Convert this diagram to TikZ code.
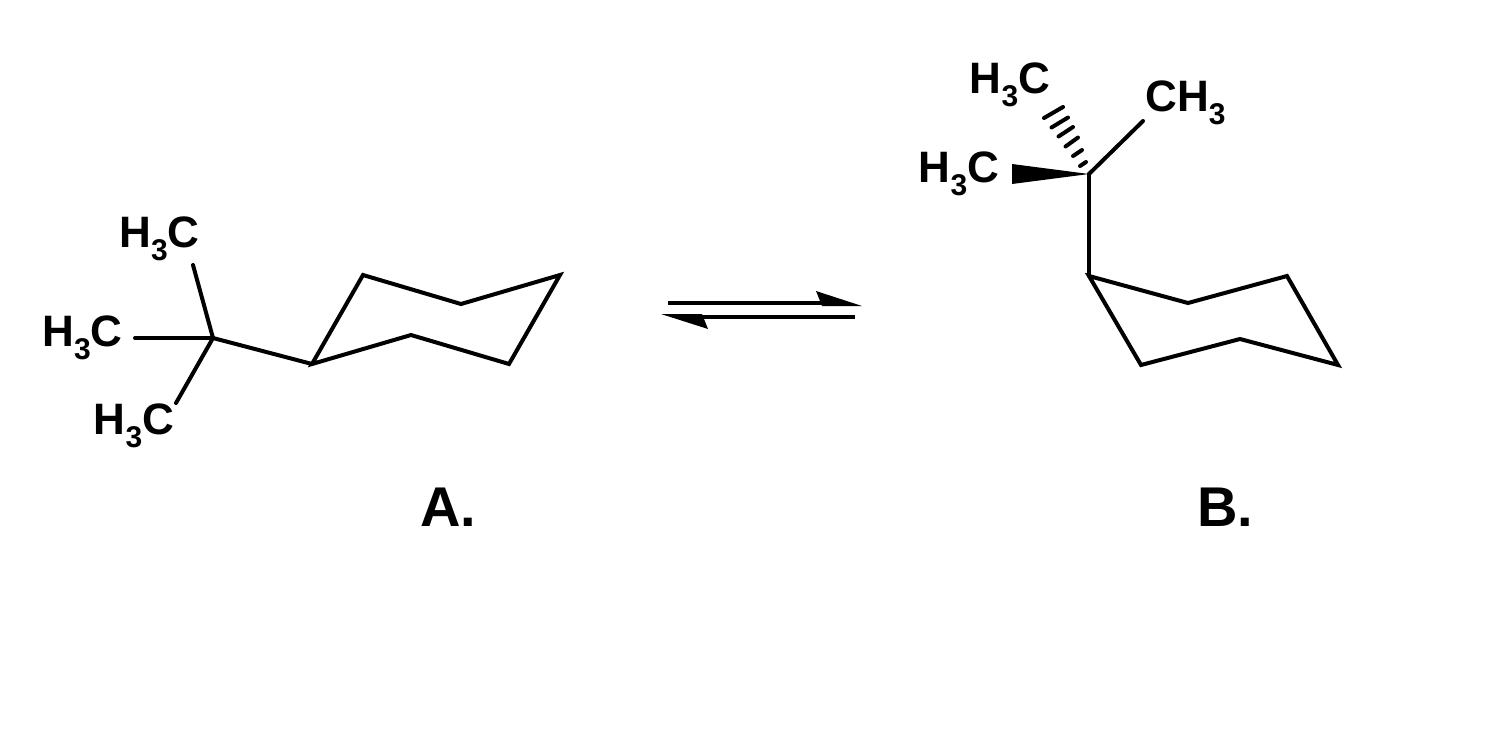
\documentclass[tikz,border=0pt]{standalone}
\usepackage{fontspec}
\setmainfont{Liberation Sans}[BoldFont={Liberation Sans Bold}]
\newcommand{\chemfs}{\fontsize{33}{33}\selectfont\bfseries}
\newcommand{\subthree}{\raisebox{-9.75pt}{\fontsize{22.5}{22.5}\selectfont\bfseries 3}}
\tikzset{
  x=0.75pt,y=-0.75pt,
  bond/.style={line width=3pt,line cap=round,line join=miter},
  hashbond/.style={line width=3pt,line cap=round},
  eqline/.style={line width=3pt,line cap=butt},
  chemlabel/.style={anchor=base west,inner sep=0pt,font=\chemfs},
  isolabel/.style={anchor=base west,inner sep=0pt,font=\fontsize{42}{42}\selectfont\bfseries}
}
\begin{document}
\begin{tikzpicture}
\useasboundingbox (0,0) rectangle (1492,754);
% labels
\node[chemlabel] (la) at (119,247) {H\subthree C};
\node[chemlabel] (lb) at (42,346) {H\subthree C};
\node[chemlabel] (lc) at (93.5,434) {H\subthree C};
\node[chemlabel] (ld) at (969.5,93) {H\subthree C};
\node[chemlabel] (le) at (918.5,182) {H\subthree C};
\node[chemlabel] (lf) at (1145,111) {CH\subthree};
\node[isolabel] (capA) at (420,526) {A.};
\node[isolabel] (capB) at (1197,526) {B.};
% molecule A
\coordinate (a1) at (312,364);
\coordinate (a2) at (363,275);
\coordinate (a3) at (461,304);
\coordinate (a4) at (560,275);
\coordinate (a5) at (509,364);
\coordinate (a6) at (411,335);
\coordinate (ac) at (213,338);
\coordinate (am1) at (193,265);
\coordinate (am2) at (135,338);
\coordinate (am3) at (176,403);
\draw[bond] (a1) -- (a2) -- (a3) -- (a4) -- (a5) -- (a6) -- (a1) -- cycle;
\draw[bond] (a1) -- (ac);
\draw[bond] (ac) -- (am1);
\draw[bond] (ac) -- (am2);
\draw[bond] (ac) -- (am3);
% molecule B
\coordinate (b1) at (1089,276);
\coordinate (b2) at (1188,303);
\coordinate (b3) at (1287,276);
\coordinate (b4) at (1338,365);
\coordinate (b5) at (1240,339);
\coordinate (b6) at (1141,365);
\coordinate (bc) at (1089,174);
\coordinate (bm1) at (1143,121);
\coordinate (bw1) at (1012,164);
\coordinate (bw2) at (1012,184);
\draw[bond] (b1) -- (b2) -- (b3) -- (b4) -- (b5) -- (b6) -- cycle;
\draw[bond] (b1) -- (bc);
\draw[bond] (bc) -- (bm1);
\fill (bc) -- (bw1) -- (bw2) -- cycle;
\foreach \xa/\ya/\xb/\yb in {1044/118/1063/107,1051.5/127.5/1068/117.5,1058.5/136.5/1073/127,1065.5/146.5/1078/137.5,1073/156/1082/150,1080/166/1086/162}
  \draw[hashbond] (\xa,\ya) -- (\xb,\yb);
% equilibrium arrows
\coordinate (e1) at (668,303);
\coordinate (e2) at (830,303);
\coordinate (e3) at (855,317);
\coordinate (e4) at (695,317);
\draw[eqline] (e1) -- (e2);
\draw[eqline] (e3) -- (e4);
\fill (862,306) -- (816,291) -- (822,306) -- cycle;
\fill (661,314) -- (708,329) -- (702,314) -- cycle;
\end{tikzpicture}
\end{document}
